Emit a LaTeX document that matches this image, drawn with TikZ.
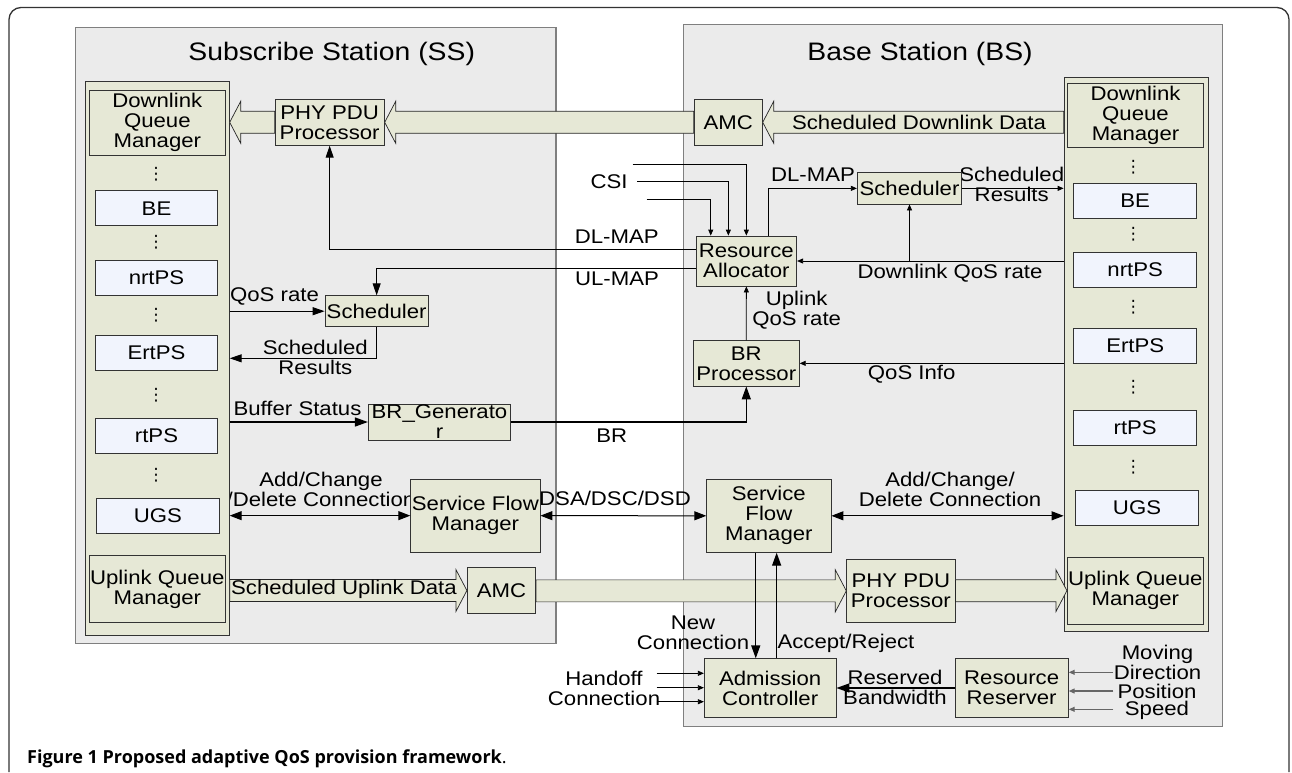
\documentclass[tikz,border=0pt]{standalone}
\usepackage{fontspec}
\setmainfont{Liberation Sans}[FakeStretch=1.12]
\newfontfamily\dotsfont{DejaVu Sans}
\newfontfamily\capfont{Open Sans}
\usetikzlibrary{arrows.meta,calc}
\definecolor{blkfill}{HTML}{E6E8D6}
\definecolor{qfill}{HTML}{F1F4FD}
\definecolor{stfill}{HTML}{EBEBEB}
\definecolor{stline}{HTML}{7F7F7F}
\newcommand\txt{\fontsize{19.8pt}{20pt}\selectfont}
\newcommand\ttl{\fontsize{25.3pt}{26pt}\selectfont}
% hollow data-flow arrow: #1 start point, #2 tip point, #3 direction (1 = right, -1 = left)
\newcommand\bandarrow[3]{%
  \path[band] let \p1=(#1), \p2=(#2) in
    (\x1,{\y2+11pt}) -- ({\x2-(#3)*11pt},{\y2+11pt}) -- ({\x2-(#3)*11pt},{\y2+21pt})
    -- (\x2,\y2) -- ({\x2-(#3)*11pt},{\y2-21pt}) -- ({\x2-(#3)*11pt},{\y2-11pt})
    -- (\x1,{\y2-11pt}) -- cycle;}
\tikzset{
  station/.style={draw=stline, fill=stfill, line width=1.2pt, inner sep=0pt},
  col/.style={draw=black!80, fill=blkfill, line width=0.8pt, inner sep=0pt},
  blk/.style={draw=black!80, fill=blkfill, line width=0.8pt, inner sep=0pt, align=center, font=\txt},
  queue/.style={draw=black!80, fill=qfill, line width=0.8pt, inner sep=0pt,
    minimum width=121.6pt, minimum height=35pt, font=\txt},
  lbl/.style={inner sep=0pt, align=center, font=\txt},
  vdot/.style={inner sep=0pt, font=\dotsfont\fontsize{17pt}{17pt}\selectfont},
  band/.style={draw=black!85, fill=blkfill, line width=0.7pt, line join=miter},
  sarr/.style={line width=0.8pt, -{Triangle[length=6pt,width=5pt]}},
  marr/.style={line width=1pt, -{Triangle[length=12pt,width=8pt]}},
  barr/.style={line width=1.4pt, -{Triangle[length=13pt,width=9pt]}},
  darr/.style={line width=1pt, {Triangle[length=12pt,width=9pt]}-{Triangle[length=12pt,width=9pt]}},
  garr/.style={line width=1.2pt, draw=black!60, -{Triangle[length=6pt,width=5pt]}},
}
\begin{document}
\begin{tikzpicture}[x=1pt,y=-1pt]
\useasboundingbox (0,0) rectangle (1292,772);
% figure frame
\draw[line width=1.3pt, black!80, rounded corners=12pt] (9,772) -- (9,7.5) -- (1289,7.5) -- (1289,772);

% the two stations
\node[station, minimum width=480.3pt, minimum height=616pt] (ss) at (315.85,335.3) {};
\node[station, minimum width=539pt, minimum height=702.4pt] (bs) at (952.8,375.5) {};
\node[font=\ttl, anchor=base, inner sep=0pt] (ssT) at (331.7,60) {Subscribe Station (SS)};
\node[font=\ttl, anchor=base, inner sep=0pt] (bsT) at (920,60) {Base Station (BS)};

% connector labels
\node[lbl] (lCSI) at (609,182) {CSI};
\node[lbl] (lDLa) at (813,175) {DL-MAP};
\node[lbl] (lSRb) at (1011.7,184.5) {Scheduled\\Results};
\node[lbl] (lDQ) at (950,273.3) {Downlink QoS rate};
\node[lbl] (lDLb) at (616.7,236.7) {DL-MAP};
\node[lbl] (lUL) at (617,278.3) {UL-MAP};
\node[lbl] (lQR) at (274.5,296.7) {QoS rate};
\node[lbl] (lSRs) at (315.3,357.3) {Scheduled\\Results};
\node[lbl] (lUQ) at (796.7,309.7) {Uplink\\QoS rate};
\node[lbl] (lQI) at (911.7,374) {QoS Info};
\node[lbl] (lBS) at (297.5,408.3) {Buffer Status};
\node[lbl] (lBR) at (611.7,436) {BR};
\node[lbl] (lACs) at (321,489.7) {Add/Change\\/Delete Connection};
\node[lbl] (lDSA) at (615,498.3) {DSA/DSC/DSD};
\node[lbl] (lACb) at (950,489.5) {Add/Change/\\Delete Connection};
\node[lbl] (lNC) at (693,633) {New\\Connection};
\node[lbl] (lAR) at (846,643.3) {Accept/Reject};
\node[lbl] (lHO) at (604,688) {Handoff\\Connection};
\node[lbl] (lRB) at (895,687.5) {Reserved\\Bandwidth};
\node[lbl] (lMD) at (1157.5,662) {Moving\\Direction};
\node[lbl] (lPos) at (1157,691) {Position};
\node[lbl] (lSpd) at (1157,710.7) {Speed};

% queue columns
\node[col, minimum width=144.3pt, minimum height=554.7pt] (qS) at (157.15,358.35) {};
\node[col, minimum width=144.3pt, minimum height=553.7pt] (qB) at (1136.15,354.15) {};
\node[blk, minimum width=136pt, minimum height=65pt] (dlS) at (157.3,122.5) {Downlink\\Queue\\Manager};
\node[blk, minimum width=136pt, minimum height=67pt] (ulS) at (157.3,589.2) {Uplink Queue\\Manager};
\node[blk, minimum width=135.6pt, minimum height=64pt] (dlB) at (1135.5,115.3) {Downlink\\Queue\\Manager};
\node[blk, minimum width=136pt, minimum height=66.7pt] (ulB) at (1135.3,590.65) {Uplink Queue\\Manager};

\node[queue] (beS) at (156.5,208.2) {BE};
\node[queue] (nrtS) at (156.5,277.5) {nrtPS};
\node[queue] (ertS) at (156.5,352.85) {ErtPS};
\node[queue] (rtS) at (156.5,435.8) {rtPS};
\node[queue, minimum width=122.6pt] (ugsS) at (158,515.8) {UGS};
\node[queue, minimum width=123pt] (beB) at (1135.2,200.8) {BE};
\node[queue, minimum width=123pt] (nrtB) at (1135.2,269.8) {nrtPS};
\node[queue, minimum width=123pt] (ertB) at (1135.2,345.5) {ErtPS};
\node[queue, minimum width=123pt] (rtB) at (1135.2,427.85) {rtPS};
\node[queue, minimum width=122.6pt] (ugsB) at (1137,507.85) {UGS};

\foreach \y [count=\i] in {174,242,315.5,395.5,475.7}
  \node[vdot] (dS\i) at (156,\y) {⋮};
\foreach \y [count=\i] in {167.5,234.5,307.5,387.5,467.5}
  \node[vdot] (dB\i) at (1133.3,\y) {⋮};

% processing blocks
\node[blk, minimum width=109.3pt, minimum height=46pt] (phyS) at (329.65,122.3) {PHY PDU\\Processor};
\node[blk, minimum width=68.3pt, minimum height=46pt] (amcB) at (728.15,122.3) {AMC};
\node[blk, minimum width=100.7pt, minimum height=50pt] (ra) at (746.35,261) {Resource\\Allocator};
\node[blk, minimum width=104.4pt, minimum height=31.3pt] (schB) at (909.5,188.35) {Scheduler};
\node[blk, minimum width=103.3pt, minimum height=31pt] (schS) at (376.65,311.2) {Scheduler};
\node[blk, minimum width=106pt, minimum height=45.3pt] (brP) at (746.3,363.35) {BR\\Processor};
\node[blk, minimum width=142.4pt, minimum height=36pt] (brG) at (439.5,422) {BR\_Generato\\r};
\node[blk, minimum width=129.3pt, minimum height=73.3pt] (sfmS) at (475.35,515.65) {Service Flow\\Manager};
\node[blk, minimum width=124.3pt, minimum height=73pt] (sfmB) at (768.85,515.8) {Service\\Flow\\Manager};
\node[blk, minimum width=68.4pt, minimum height=45.6pt] (amcS) at (501.5,590.5) {AMC};
\node[blk, minimum width=108.3pt, minimum height=63.7pt] (phyB) at (900.85,590.85) {PHY PDU\\Processor};
\node[blk, minimum width=131.7pt, minimum height=58.6pt] (ac) at (770.15,688) {Admission\\Controller};
\node[blk, minimum width=113.3pt, minimum height=59.4pt] (rr) at (1011.65,688) {Resource\\Reserver};

% data paths
\bandarrow{qB.west |- amcB.east}{amcB.east}{-1}
\bandarrow{amcB.west}{phyS.east}{-1}
\bandarrow{phyS.west}{qS.east |- phyS.west}{-1}
\bandarrow{qS.east |- amcS.west}{amcS.west}{1}
\bandarrow{amcS.east}{phyB.west}{1}
\bandarrow{phyB.east}{ulB.west}{1}
\node[lbl] (lSDD) at (919,122) {Scheduled Downlink Data};
\node[lbl] (lSUD) at (344,589) {Scheduled Uplink Data};

% channel state inputs
\coordinate (csi1) at (632.7,164.3);
\coordinate (csi2) at (637.3,181.7);
\coordinate (csi3) at (646.7,199.3);
\draw[sarr] (csi1) -| (ra.north);
\draw[sarr] (csi2) -| ([xshift=-18pt]ra.north);
\draw[sarr] (csi3) -| ([xshift=-35.6pt]ra.north);

% control signalling
\draw[sarr] ([xshift=22pt]ra.north) |- (schB.west);
\draw[sarr] (schB.east) -- (schB.east -| qB.west);
\draw[sarr] (ra.east -| qB.west) -- (ra.east);
\draw[sarr] (schB.south |- ra.east) -- (schB.south);
\draw[marr] ([yshift=11.7pt]ra.west) -| (phyS.south);
\draw[marr] ([yshift=-7.3pt]ra.west) -| (schS.north);
\draw[marr] (qS.east |- schS.west) -- (schS.west);
\draw[marr] (schS.south) |- (qS.east |- 0,358.3);
\draw[barr] (qS.east |- brG.west) -- (brG.west);
\draw[barr] (brG.east) -| (brP.south);
\draw[sarr] (brP.north) -- (ra.south);
\draw[sarr] (brP.east -| qB.west) -- (brP.east);
\draw[darr] (qS.east |- sfmS.west) -- (sfmS.west);
\draw[darr] (sfmS.east) -- (sfmB.west);
\draw[darr] (sfmB.east) -- (sfmB.east -| qB.west);
\draw[barr] ([xshift=-13.1pt]sfmB.south) -- ([xshift=-13.1pt]sfmB.south |- ac.north);
\draw[barr] ([xshift=7.8pt]sfmB.south |- ac.north) -- ([xshift=7.8pt]sfmB.south);

% handoff inputs
\coordinate (ho1) at (656.7,673.3);
\coordinate (ho2) at (656.7,687.7);
\coordinate (ho3) at (656.7,701.7);
\foreach \c in {ho1,ho2,ho3} \draw[sarr] (\c) -- (\c -| ac.west);
\draw[barr] (rr.west) -- (ac.east);

% mobility inputs
\coordinate (mv1) at (1113.3,672.3);
\coordinate (mv2) at (1113.3,691);
\coordinate (mv3) at (1113.3,709.3);
\foreach \c in {mv1,mv2,mv3} \draw[garr] (\c) -- (\c -| rr.east);

% caption
\node[anchor=base west, inner sep=0pt, font=\capfont\fontsize{18pt}{18pt}\selectfont] (cap) at (27,763.3)
  {\textbf{Figure 1 Proposed adaptive QoS provision framework}.};
\end{tikzpicture}
\end{document}
